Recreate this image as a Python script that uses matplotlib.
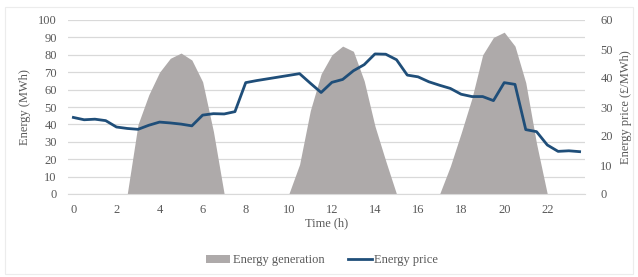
import numpy as np
import matplotlib
matplotlib.use("Agg")
import matplotlib.pyplot as plt
from matplotlib.patches import Patch, Rectangle
from matplotlib.lines import Line2D

# half-hourly time axis (hours)
horas = np.arange(0, 24, 0.5)

# energy generation (MWh), left axis
geracao = [0, 0, 0, 0, 0, 0, 40, 57, 70, 78, 81, 77, 64.5, 36,
           0, 0, 0, 0, 0, 0, 0, 17, 48, 69, 80, 85, 82, 65, 39, 19,
           0, 0, 0, 0, 0, 16, 35, 55, 80, 90, 93, 85, 64, 29,
           0, 0, 0, 0]

# energy price (GBP/MWh), right axis
preco = [26.4, 25.6, 25.8, 25.3, 23.1, 22.6, 22.3, 23.7, 24.8, 24.5,
         24.1, 23.5, 27.2, 27.7, 27.6, 28.4, 38.4, 39.1, 39.7, 40.3,
         40.9, 41.5, 38.2, 35.0, 38.5, 39.5, 42.5, 44.6, 48.3, 48.2,
         46.3, 41.0, 40.4, 38.7, 37.5, 36.4, 34.4, 33.6, 33.6, 32.2,
         38.4, 37.8, 22.2, 21.5, 16.9, 14.7, 14.9, 14.6]

cor_area = "#aeaaaa"
cor_linha = "#1f4e79"
cor_texto = "#595959"
cor_grade = "#d9d9d9"

plt.rcParams["font.family"] = ["Liberation Serif", "DejaVu Serif"]
plt.rcParams["font.size"] = 9

fig = plt.figure(figsize=(6.38, 2.77), dpi=100)
ax = fig.add_axes([68 / 638, 1 - 194 / 277, 517 / 638, 174 / 277])

# moldura do gráfico
fig.patches.append(Rectangle((0.008, 0.01), 0.984, 0.965, transform=fig.transFigure,
                             fill=False, edgecolor="#ececec", linewidth=0.8))

ax.fill_between(horas, geracao, 0, color=cor_area, linewidth=0, zorder=2)
ax.set_xlim(-0.25, 23.75)
ax.set_ylim(0, 100)
ax.set_yticks(np.arange(0, 101, 10))
ax.set_xticks(np.arange(0, 23, 2))
ax.grid(axis="y", color=cor_grade, linewidth=0.9, zorder=0)
ax.set_axisbelow(True)
for s in ["top", "right", "left"]:
    ax.spines[s].set_visible(False)
ax.spines["bottom"].set_color(cor_grade)
ax.tick_params(axis="both", length=0, colors=cor_texto, labelsize=9)
ax.tick_params(axis="x", pad=7)
ax.tick_params(axis="y", pad=8)
ax.set_ylabel("Energy (MWh)", color=cor_texto, fontsize=9, labelpad=5)
ax.set_xlabel("Time (h)", color=cor_texto, fontsize=9, labelpad=1)

ax2 = ax.twinx()
ax2.plot(horas, preco, color=cor_linha, linewidth=2, zorder=3)
ax2.set_ylim(0, 60)
ax2.set_yticks(np.arange(0, 61, 10))
for s in ["top", "right", "left", "bottom"]:
    ax2.spines[s].set_visible(False)
ax2.tick_params(axis="y", length=0, colors=cor_texto, labelsize=9, pad=11)
ax2.set_ylabel("Energy price (£/MWh)", color=cor_texto, fontsize=9, labelpad=5)

handles = [Patch(facecolor=cor_area, edgecolor="none"),
           Line2D([0], [0], color=cor_linha, linewidth=2)]
fig.legend(handles, ["Energy generation", "Energy price"], loc="center",
           bbox_to_anchor=(0.505, 0.06), ncol=2, frameon=False,
           fontsize=9, labelcolor=cor_texto, handlelength=1.9,
           handletextpad=0.2, columnspacing=1.9)

fig.savefig("out.png", dpi=100)
